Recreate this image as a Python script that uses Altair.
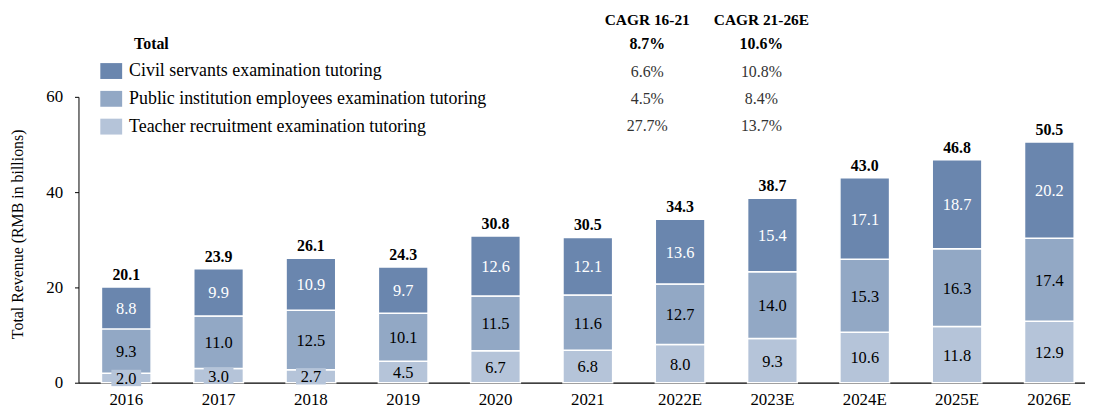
import altair as alt
import pandas as pd

years = ["2016", "2017", "2018", "2019", "2020", "2021", "2022E", "2023E", "2024E", "2025E", "2026E"]
civil = [8.8, 9.9, 10.9, 9.7, 12.6, 12.1, 13.6, 15.4, 17.1, 18.7, 20.2]
public = [9.3, 11.0, 12.5, 10.1, 11.5, 11.6, 12.7, 14.0, 15.3, 16.3, 17.4]
teacher = [2.0, 3.0, 2.7, 4.5, 6.7, 6.8, 8.0, 9.3, 10.6, 11.8, 12.9]
totals = [20.1, 23.9, 26.1, 24.3, 30.8, 30.5, 34.3, 38.7, 43.0, 46.8, 50.5]
segments = [
    "Civil servants examination tutoring",
    "Public institution employees examination tutoring",
    "Teacher recruitment examination tutoring",
]
colors = ["#6a86ae", "#92a8c5", "#b5c4d9"]
cagr_rows = ["Total"] + segments
cagr_headers = ["CAGR 16-21", "CAGR 21-26E"]
cagr_16_21 = ["8.7%", "6.6%", "4.5%", "27.7%"]
cagr_21_26 = ["10.6%", "10.8%", "8.4%", "13.7%"]

FONT = "Times New Roman, Liberation Serif, DejaVu Serif, serif"

rows = []
for i, y in enumerate(years):
    rows.append({"year": y, "segment": segments[2], "value": teacher[i], "ord": 0})
    rows.append({"year": y, "segment": segments[1], "value": public[i], "ord": 1})
    rows.append({"year": y, "segment": segments[0], "value": civil[i], "ord": 2})
df = pd.DataFrame(rows)
df["label"] = df["value"].map(lambda v: f"{v:.1f}")
tot_df = pd.DataFrame({"year": years, "total": totals})
tot_df["label"] = tot_df["total"].map(lambda v: f"{v:.1f}")

xscale = alt.Scale(domain=years, paddingInner=0.462, paddingOuter=0.183, align=0.68)
yscale = alt.Scale(domain=[0, 60], nice=False)

x_axis = alt.Axis(title=None, labelAngle=0, ticks=False, domainColor="black", domainWidth=1.2,
                  labelPadding=9, labelFontSize=17, labelFont=FONT, labelColor="black")
y_axis = alt.Axis(values=[0, 20, 40, 60], grid=False, tickSize=4, tickColor="black",
                  domainColor="black", labelFontSize=17, labelFont=FONT, labelColor="black",
                  labelPadding=12, title="Total Revenue (RMB in billions)",
                  titleFont=FONT, titleFontSize=16, titleFontWeight="normal",
                  titleColor="black", titleX=-61, titleY=138, titleAngle=270,
                  titleBaseline="middle", titleAlign="center")

def X():
    return alt.X("year:N", sort=years, scale=xscale, axis=x_axis)

def Y(field, **kw):
    return alt.Y(field, scale=yscale, axis=y_axis, **kw)

bars = alt.Chart(df).mark_bar(stroke="white", strokeWidth=1.5).encode(
    x=X(),
    y=Y("value:Q", stack="zero"),
    color=alt.Color("segment:N", scale=alt.Scale(domain=segments, range=colors),
                    legend=alt.Legend(orient="none", legendX=22, legendY=-37, title=None,
                                      symbolType="M-1,-0.727H1V0.727H-1Z", symbolSize=484,
                                      symbolStrokeWidth=0, symbolOpacity=1,
                                      labelFontSize=18, labelFont=FONT, labelColor="black",
                                      labelOffset=7, rowPadding=8, padding=0, labelLimit=600)),
    order=alt.Order("ord:Q", sort="ascending"),
)

stacked = alt.Chart(df).transform_stack(
    stack="value", as_=["y0", "y1"], groupby=["year"],
    sort=[alt.SortField("ord", order="ascending")],
).transform_calculate(mid="(datum.y0 + datum.y1) / 2")

boxes = stacked.transform_filter("datum.value < 4").mark_point(
    shape="M-1,-0.55H1V0.55H-1Z", filled=True, size=900, color=colors[2], opacity=1,
).encode(x=X(), y=Y("mid:Q"))

seg_labels = stacked.mark_text(font=FONT, fontSize=16.5, baseline="middle", dy=1).encode(
    x=X(),
    y=Y("mid:Q"),
    text="label:N",
    color=alt.condition(alt.datum.ord == 2, alt.value("white"), alt.value("black")),
)

tot_labels = alt.Chart(tot_df).mark_text(font=FONT, fontSize=16, fontWeight="bold",
                                         baseline="alphabetic", dy=-7, color="black").encode(
    x=X(), y=Y("total:Q"), text="label:N",
)

# CAGR table text
one = pd.DataFrame({"a": [0]})
table_layers = []
row_y = [-53, -25, 2, 29]
col_x = [573, 688]
for j, h in enumerate(cagr_headers):
    table_layers.append(alt.Chart(one).mark_text(font=FONT, fontSize=15.5, fontWeight="bold",
                                                 align="center", baseline="middle", color="black").encode(
        x=alt.value(col_x[j]), y=alt.value(-77), text=alt.value(h)))
table_layers.append(alt.Chart(one).mark_text(font=FONT, fontSize=16, fontWeight="bold",
                                             align="left", baseline="middle", color="black").encode(
    x=alt.value(56), y=alt.value(row_y[0]), text=alt.value(cagr_rows[0])))
for i in range(4):
    for j, vals in enumerate([cagr_16_21, cagr_21_26]):
        table_layers.append(alt.Chart(one).mark_text(
            font=FONT, fontSize=16, fontWeight="bold" if i == 0 else "normal",
            align="center", baseline="middle", color="black" if i == 0 else "#333333").encode(
            x=alt.value(col_x[j]), y=alt.value(row_y[i]), text=alt.value(vals[i])))

chart = alt.layer(bars, boxes, seg_labels, tot_labels, *table_layers).properties(
    width=1014, height=288,
    autosize=alt.AutoSizeParams(type="none"),
    padding={"left": 71, "top": 88, "right": 0, "bottom": 28},
).configure_view(stroke=None)

chart.save("out.html", embed_options={"renderer": "svg", "actions": False})
